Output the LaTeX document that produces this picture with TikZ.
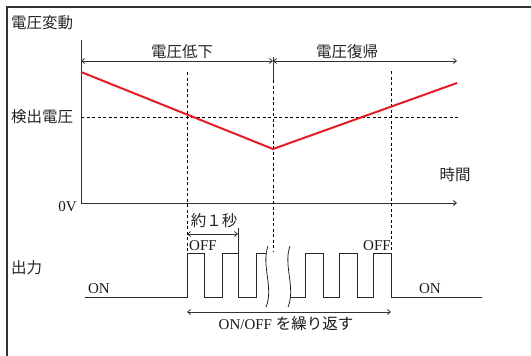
\documentclass[tikz,border=0pt]{standalone}
\usepackage{fontspec}
\setmainfont{Liberation Serif}
\newfontfamily\jp{Noto Sans CJK JP}
\usetikzlibrary{arrows.meta}
\definecolor{vred}{RGB}{230,28,36}
\definecolor{ink}{RGB}{50,50,50}
\tikzset{
  framel/.style={draw=ink,line width=1.2pt},
  axisl/.style={draw=ink,line width=0.9pt},
  guide/.style={draw=black,line width=0.8pt,dash pattern=on 3pt off 2.5pt},
  sig/.style={draw=black!85,line width=1pt},
  volt/.style={draw=vred,line width=2pt},
  dimline/.style={draw=ink,line width=0.8pt},
  tip/.style={arrows={-Straight Barb[length=3pt,width=5pt]}},
  tips/.style={arrows={Straight Barb[length=3pt,width=5pt]-Straight Barb[length=3pt,width=5pt]}},
  jlab/.style={font=\jp\fontsize{15.5}{17}\selectfont,inner sep=0pt,text=black!85},
  rlab/.style={font=\fontsize{15}{17}\selectfont,inner sep=0pt,text=black!90}
}
\begin{document}
\begin{tikzpicture}[x=1pt,y=-1pt]
\useasboundingbox (0,0) rectangle (531,356);
% frame
\coordinate (fbl) at (7,356);
\coordinate (ftl) at (7,7);
\coordinate (ftr) at (531,7);
\draw[framel] (fbl) -- (ftl) -- (ftr);
% labels
\node[jlab,anchor=west] (title) at (11,23) {電圧変動};
\node[jlab,anchor=west] (det) at (11,117) {検出電圧};
\node[jlab,anchor=west] (out) at (11,268) {出力};
\node[rlab,anchor=east] (zero) at (77,207) {0V};
\node[jlab] (time) at (455,175) {時間};
\node[jlab] (drop) at (182,52) {電圧低下};
\node[jlab] (rec) at (347,52) {電圧復帰};
% axes
\coordinate (ytop) at (81,40);
\coordinate (orig) at (81,203);
\coordinate (xend) at (457,203);
\draw[axisl,tip] (ytop) -- (orig) -- (xend);
% dimension line top
\coordinate (dl) at (81,61);
\coordinate (dm) at (273,61);
\coordinate (dr) at (457,61);
\draw[dimline,tips] (dl) -- (dm);
\draw[dimline,tips] (dm) -- (dr);
\coordinate (mtop) at (273,57);
\coordinate (mmid) at (273,80);
\coordinate (mbot) at (273,251);
\draw[axisl] (mtop) -- (mmid);
\draw[guide] (mmid) -- (mbot);
% threshold
\coordinate (thl) at (81,117);
\coordinate (thr) at (459,117);
\draw[guide] (thl) -- (thr);
% verticals
\coordinate (v1t) at (187,72);
\coordinate (v1b) at (187,253);
\coordinate (v2t) at (391,71);
\coordinate (v2b) at (391,253);
\draw[guide] (v1t) -- (v1b);
\draw[guide] (v2t) -- (v2b);
% voltage
\coordinate (va) at (81,72);
\coordinate (vb) at (273,149);
\coordinate (vc) at (457,83);
\draw[volt] (va) -- (vb) -- (vc);
% output signal
\coordinate (s0) at (85,297);
\coordinate (s1) at (266,253);
\coordinate (s2) at (291,297);
\coordinate (s3) at (482,297);
\draw[sig] (s0) -- (187,297) -- (187,253) -- (204,253) -- (204,297) -- (222,297) -- (222,253) -- (238,253) -- (238,297) -- (256,297) -- (256,253) -- (s1);
\draw[sig] (s2) -- (305,297) -- (305,253) -- (323,253) -- (323,297) -- (339,297) -- (339,253) -- (357,253) -- (357,297) -- (373,297) -- (373,253) -- (391,253) -- (391,297) -- (s3);
% break marks
\coordinate (b1t) at (268,246);
\coordinate (b1b) at (266,307);
\coordinate (b2t) at (290,246);
\coordinate (b2b) at (288,307);
\draw[sig,line width=0.8pt] (b1t) .. controls (261,265) and (274,288) .. (b1b);
\draw[sig,line width=0.8pt] (b2t) .. controls (283,265) and (296,288) .. (b2b);
% about 1 second
\coordinate (e1t) at (238,228);
\coordinate (e1b) at (238,253);
\draw[sig] (e1t) -- (e1b);
\coordinate (a1l) at (187,234);
\coordinate (a1r) at (238,234);
\draw[dimline,tips] (a1l) -- (a1r);
\node[jlab] (sec) at (214,221) {約１秒};
\node[rlab] (off1) at (203,246) {OFF};
\node[rlab] (off2) at (377,246) {OFF};
\node[rlab] (on1) at (99,289) {ON};
\node[rlab] (on2) at (430,289) {ON};
% repeat arrow
\coordinate (rl) at (187,312);
\coordinate (rr) at (391,312);
\draw[dimline,tips] (rl) -- (rr);
\node[rlab] (rep) at (286,324) {ON/OFF {\jp\fontsize{15.5}{17}\selectfont を繰り返す}};
\end{tikzpicture}
\end{document}
